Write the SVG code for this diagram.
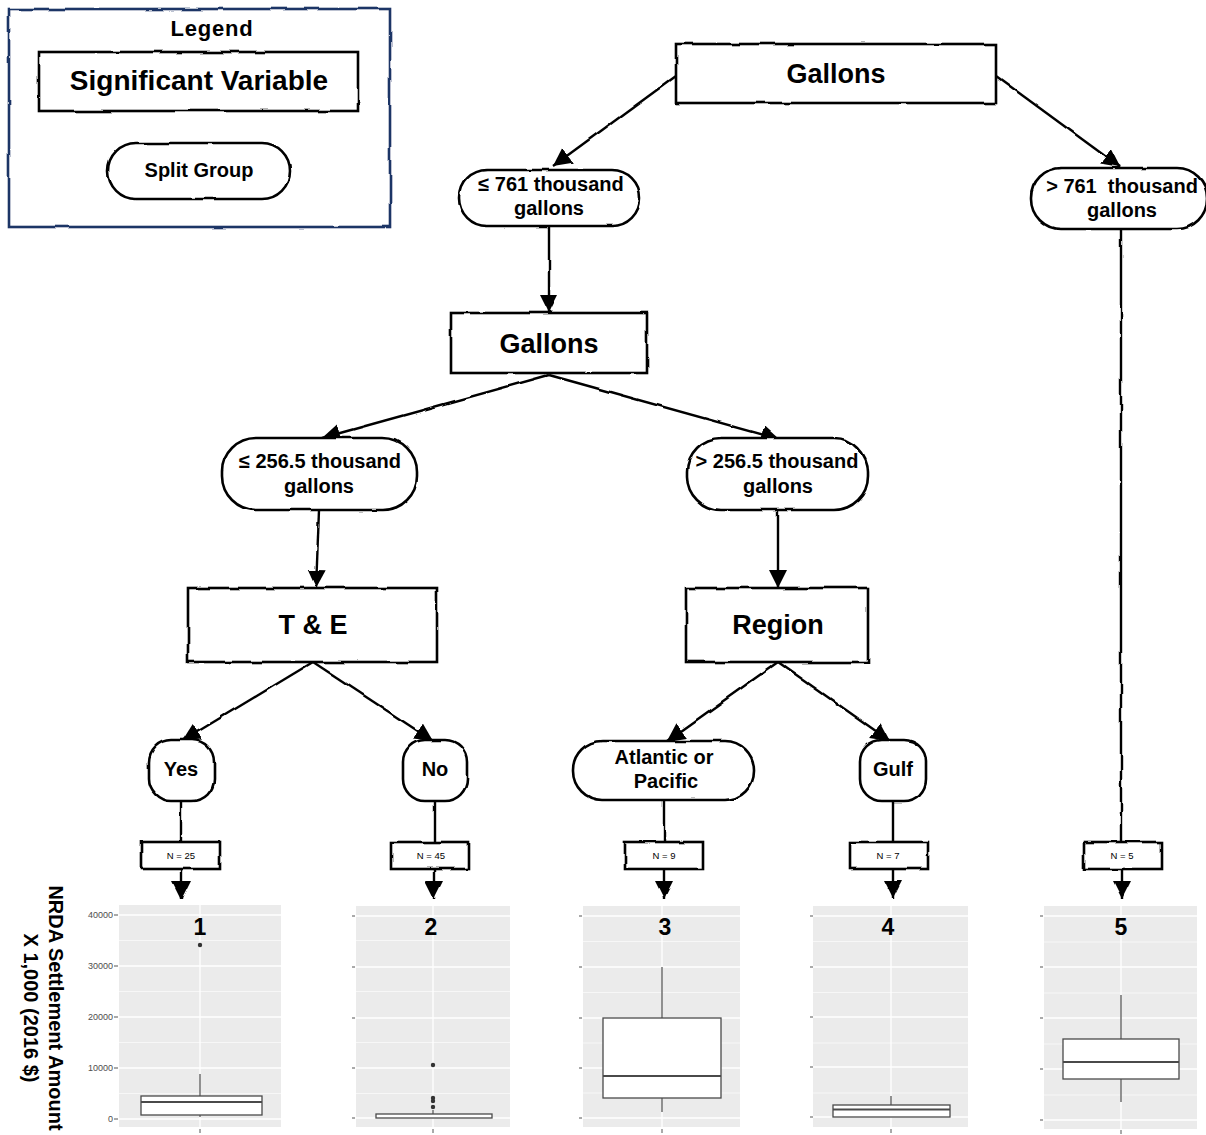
<svg xmlns="http://www.w3.org/2000/svg" width="1206" height="1135" viewBox="0 0 1206 1135">
<defs>
<filter id="rough" x="-5%" y="-5%" width="110%" height="110%">
<feTurbulence type="fractalNoise" baseFrequency="0.04" numOctaves="2" seed="3" result="n"/>
<feDisplacementMap in="SourceGraphic" in2="n" scale="3" xChannelSelector="R" yChannelSelector="G"/>
</filter>
<marker id="ah" markerUnits="userSpaceOnUse" markerWidth="20" markerHeight="20" refX="18" refY="9" orient="auto">
<path d="M0,0 L18,9 L0,18 z" fill="#000"/>
</marker>
</defs>
<style>
.sh{fill:#fff;stroke:#000;stroke-width:2.6;}
.t{font-family:"Liberation Sans",Arial,sans-serif;font-weight:bold;fill:#000;text-anchor:middle;}
.big{font-size:27px;}
.mid{font-size:20px;}
.nt{font-family:"Liberation Sans",Arial,sans-serif;font-size:9.5px;fill:#000;text-anchor:middle;}
.ln{stroke:#000;stroke-width:2.4;fill:none;}
.pb{fill:#ebebeb;}
.gM{stroke:#fff;stroke-width:1.3;}
.gm{stroke:#fff;stroke-width:0.6;}
.bx{fill:#fff;stroke:#4a4a4a;stroke-width:1.3;}
.md{stroke:#4a4a4a;stroke-width:2;}
.wh{stroke:#4a4a4a;stroke-width:1.2;}
.tk{stroke:#555;stroke-width:1;}
.tl{font-family:"Liberation Sans",Arial,sans-serif;font-size:9px;fill:#4d4d4d;text-anchor:end;}
.pn{font-family:"Liberation Sans",Arial,sans-serif;font-weight:bold;font-size:23px;fill:#000;text-anchor:middle;}
</style>

<g id="legend">
<rect x="9" y="9" width="381" height="218" fill="#fff" stroke="#1f3566" stroke-width="2.6" filter="url(#rough)"/>
<text class="t" x="212" y="36" font-size="22" letter-spacing="0.8">Legend</text>
<rect class="sh" x="39" y="52" width="319" height="59" filter="url(#rough)"/>
<text class="t" x="199" y="90" font-size="28">Significant Variable</text>
<rect class="sh" x="108" y="143" width="182" height="56" rx="28" filter="url(#rough)"/>
<text class="t mid" x="199" y="177">Split Group</text>
</g>

<g id="connectors">
<g filter="url(#rough)">
<line class="ln" x1="676" y1="76" x2="553" y2="166" marker-end="url(#ah)"/>
<line class="ln" x1="996" y1="76" x2="1120" y2="167" marker-end="url(#ah)"/>
<line class="ln" x1="549" y1="226" x2="549" y2="313" marker-end="url(#ah)"/>
<line class="ln" x1="549" y1="375" x2="322" y2="438" marker-end="url(#ah)"/>
<line class="ln" x1="549" y1="375" x2="779" y2="439" marker-end="url(#ah)"/>
<line class="ln" x1="319" y1="510" x2="316" y2="588" marker-end="url(#ah)"/>
<line class="ln" x1="778" y1="510" x2="778" y2="588" marker-end="url(#ah)"/>
<line class="ln" x1="313" y1="662" x2="182" y2="741" marker-end="url(#ah)"/>
<line class="ln" x1="313" y1="662" x2="433" y2="741" marker-end="url(#ah)"/>
<line class="ln" x1="778" y1="662" x2="667" y2="741" marker-end="url(#ah)"/>
<line class="ln" x1="778" y1="662" x2="890" y2="741" marker-end="url(#ah)"/>
<line class="ln" x1="181" y1="801" x2="181" y2="842"/>
<line class="ln" x1="435" y1="801" x2="435" y2="842"/>
<line class="ln" x1="664" y1="800" x2="664" y2="842"/>
<line class="ln" x1="893" y1="801" x2="893" y2="842"/>
<line class="ln" x1="1121" y1="229" x2="1121" y2="842"/>
<line class="ln" x1="181" y1="869" x2="181" y2="899" marker-end="url(#ah)"/>
<line class="ln" x1="434" y1="869" x2="434" y2="899" marker-end="url(#ah)"/>
<line class="ln" x1="664" y1="869" x2="664" y2="899" marker-end="url(#ah)"/>
<line class="ln" x1="893" y1="869" x2="893" y2="899" marker-end="url(#ah)"/>
<line class="ln" x1="1122" y1="869" x2="1122" y2="899" marker-end="url(#ah)"/>
</g>
</g>

<g id="gallons1">
<rect class="sh" x="676" y="44" width="320" height="59" filter="url(#rough)"/>
<text class="t big" x="836" y="83">Gallons</text>
</g>
<g id="le761">
<rect class="sh" x="459" y="170" width="181" height="56" rx="28" filter="url(#rough)"/>
<text class="t mid" x="551" y="191">≤  761 thousand</text>
<text class="t mid" x="549" y="215">gallons</text>
</g>
<g id="gt761">
<rect class="sh" x="1031" y="168" width="176" height="61" rx="30" filter="url(#rough)"/>
<text class="t mid" x="1122" y="193" xml:space="preserve">&gt; 761  thousand</text>
<text class="t mid" x="1122" y="217">gallons</text>
</g>
<g id="gallons2">
<rect class="sh" x="451" y="313" width="196" height="60" filter="url(#rough)"/>
<text class="t big" x="549" y="353">Gallons</text>
</g>
<g id="le256">
<rect class="sh" x="222" y="438" width="195" height="72" rx="34" filter="url(#rough)"/>
<text class="t mid" x="320" y="468">≤  256.5 thousand</text>
<text class="t mid" x="319" y="493">gallons</text>
</g>
<g id="gt256">
<rect class="sh" x="687" y="438" width="181" height="72" rx="34" filter="url(#rough)"/>
<text class="t mid" x="777" y="468">&gt; 256.5 thousand</text>
<text class="t mid" x="778" y="493">gallons</text>
</g>
<g id="te">
<rect class="sh" x="188" y="588" width="249" height="74" filter="url(#rough)"/>
<text class="t big" x="313" y="634">T &amp; E</text>
</g>
<g id="region">
<rect class="sh" x="686" y="588" width="182" height="74" filter="url(#rough)"/>
<text class="t big" x="778" y="634">Region</text>
</g>
<g id="yes">
<rect class="sh" x="149" y="740" width="65" height="61" rx="22" filter="url(#rough)"/>
<text class="t mid" x="181" y="776">Yes</text>
</g>
<g id="no">
<rect class="sh" x="403" y="740" width="64" height="61" rx="22" filter="url(#rough)"/>
<text class="t mid" x="435" y="776">No</text>
</g>
<g id="atlantic">
<rect class="sh" x="573" y="741" width="181" height="59" rx="29" filter="url(#rough)"/>
<text class="t mid" x="664" y="764">Atlantic or</text>
<text class="t mid" x="666" y="788">Pacific</text>
</g>
<g id="gulf">
<rect class="sh" x="860" y="740" width="66" height="61" rx="22" filter="url(#rough)"/>
<text class="t mid" x="893" y="776">Gulf</text>
</g>

<g id="n25"><rect class="sh" x="142" y="842" width="78" height="27" stroke-width="2.2" filter="url(#rough)"/><text class="nt" x="181" y="859">N = 25</text></g>
<g id="n45"><rect class="sh" x="391" y="842" width="78" height="27" stroke-width="2.2" filter="url(#rough)"/><text class="nt" x="431" y="859">N = 45</text></g>
<g id="n9"><rect class="sh" x="625" y="842" width="78" height="27" stroke-width="2.2" filter="url(#rough)"/><text class="nt" x="664" y="859">N = 9</text></g>
<g id="n7"><rect class="sh" x="850" y="842" width="78" height="27" stroke-width="2.2" filter="url(#rough)"/><text class="nt" x="888" y="859">N = 7</text></g>
<g id="n5"><rect class="sh" x="1084" y="842" width="77" height="27" stroke-width="2.2" filter="url(#rough)"/><text class="nt" x="1122" y="859">N = 5</text></g>

<g id="yaxis-label">
<text class="t" transform="translate(49,1008) rotate(90)" font-size="20">NRDA Settlement Amount</text>
<text class="t" transform="translate(24,1008) rotate(90)" font-size="20">X 1,000 (2016 $)</text>
</g>

<g id="plot1">
<rect class="pb" x="119" y="905" width="162" height="222"/>
<line class="gm" x1="119" x2="281" y1="940.5" y2="940.5"/><line class="gm" x1="119" x2="281" y1="991.5" y2="991.5"/><line class="gm" x1="119" x2="281" y1="1042.5" y2="1042.5"/><line class="gm" x1="119" x2="281" y1="1093.5" y2="1093.5"/>
<line class="gM" x1="119" x2="281" y1="915" y2="915"/><line class="gM" x1="119" x2="281" y1="966" y2="966"/><line class="gM" x1="119" x2="281" y1="1017" y2="1017"/><line class="gM" x1="119" x2="281" y1="1068" y2="1068"/><line class="gM" x1="119" x2="281" y1="1119" y2="1119"/>
<line class="gM" x1="200" x2="200" y1="905" y2="1127"/>
<line class="tk" x1="114" x2="118" y1="915" y2="915"/><line class="tk" x1="114" x2="118" y1="966" y2="966"/><line class="tk" x1="114" x2="118" y1="1017" y2="1017"/><line class="tk" x1="114" x2="118" y1="1068" y2="1068"/><line class="tk" x1="114" x2="118" y1="1119" y2="1119"/>
<text class="tl" x="113" y="918">40000</text><text class="tl" x="113" y="969">30000</text><text class="tl" x="113" y="1020">20000</text><text class="tl" x="113" y="1071">10000</text><text class="tl" x="113" y="1122">0</text>
<line class="tk" x1="200" x2="200" y1="1129" y2="1133"/>
<line class="wh" x1="200" x2="200" y1="1074" y2="1096"/><line class="wh" x1="200" x2="200" y1="1115" y2="1117"/>
<rect class="bx" x="141" y="1096" width="121" height="19"/>
<line class="md" x1="141" x2="262" y1="1102" y2="1102"/>
<circle cx="200" cy="945" r="2.2" fill="#333"/>
<text class="pn" x="200" y="935">1</text>
</g>

<g id="plot2">
<rect class="pb" x="356" y="906" width="154" height="221"/>
<line class="gm" x1="356" x2="510" y1="940.5" y2="940.5"/><line class="gm" x1="356" x2="510" y1="991.5" y2="991.5"/><line class="gm" x1="356" x2="510" y1="1042.5" y2="1042.5"/><line class="gm" x1="356" x2="510" y1="1093.5" y2="1093.5"/>
<line class="gM" x1="356" x2="510" y1="916" y2="916"/><line class="gM" x1="356" x2="510" y1="967" y2="967"/><line class="gM" x1="356" x2="510" y1="1018" y2="1018"/><line class="gM" x1="356" x2="510" y1="1068" y2="1068"/><line class="gM" x1="356" x2="510" y1="1118" y2="1118"/>
<line class="gM" x1="433" x2="433" y1="906" y2="1127"/>
<line class="tk" x1="352" x2="355" y1="916" y2="916"/><line class="tk" x1="352" x2="355" y1="967" y2="967"/><line class="tk" x1="352" x2="355" y1="1018" y2="1018"/><line class="tk" x1="352" x2="355" y1="1068" y2="1068"/><line class="tk" x1="352" x2="355" y1="1118" y2="1118"/>
<line class="tk" x1="433" x2="433" y1="1129" y2="1133"/>
<line class="wh" x1="433" x2="433" y1="1110" y2="1114"/>
<rect class="bx" x="376" y="1114" width="116" height="4" stroke-width="2" stroke="#3a3a3a"/>
<circle cx="433" cy="1065" r="2.2" fill="#333"/><circle cx="433" cy="1098" r="2.2" fill="#333"/><circle cx="433" cy="1101" r="2.2" fill="#333"/><circle cx="433" cy="1107" r="2.2" fill="#333"/>
<text class="pn" x="431" y="935">2</text>
</g>

<g id="plot3">
<rect class="pb" x="583" y="906" width="157" height="221"/>
<line class="gm" x1="583" x2="740" y1="941.5" y2="941.5"/><line class="gm" x1="583" x2="740" y1="992.5" y2="992.5"/><line class="gm" x1="583" x2="740" y1="1043" y2="1043"/><line class="gm" x1="583" x2="740" y1="1093" y2="1093"/>
<line class="gM" x1="583" x2="740" y1="916" y2="916"/><line class="gM" x1="583" x2="740" y1="967" y2="967"/><line class="gM" x1="583" x2="740" y1="1018" y2="1018"/><line class="gM" x1="583" x2="740" y1="1068" y2="1068"/><line class="gM" x1="583" x2="740" y1="1118" y2="1118"/>
<line class="gM" x1="662" x2="662" y1="906" y2="1127"/>
<line class="tk" x1="579" x2="582" y1="916" y2="916"/><line class="tk" x1="579" x2="582" y1="967" y2="967"/><line class="tk" x1="579" x2="582" y1="1018" y2="1018"/><line class="tk" x1="579" x2="582" y1="1068" y2="1068"/><line class="tk" x1="579" x2="582" y1="1118" y2="1118"/>
<line class="tk" x1="662" x2="662" y1="1129" y2="1133"/>
<line class="wh" x1="662" x2="662" y1="967" y2="1018"/><line class="wh" x1="662" x2="662" y1="1098" y2="1112"/>
<rect class="bx" x="603" y="1018" width="118" height="80"/>
<line class="md" x1="603" x2="721" y1="1076" y2="1076"/>
<text class="pn" x="665" y="935">3</text>
</g>

<g id="plot4">
<rect class="pb" x="813" y="906" width="155" height="221"/>
<line class="gm" x1="813" x2="968" y1="941.5" y2="941.5"/><line class="gm" x1="813" x2="968" y1="992.5" y2="992.5"/><line class="gm" x1="813" x2="968" y1="1043" y2="1043"/><line class="gm" x1="813" x2="968" y1="1093" y2="1093"/>
<line class="gM" x1="813" x2="968" y1="916" y2="916"/><line class="gM" x1="813" x2="968" y1="967" y2="967"/><line class="gM" x1="813" x2="968" y1="1017" y2="1017"/><line class="gM" x1="813" x2="968" y1="1067" y2="1067"/><line class="gM" x1="813" x2="968" y1="1117" y2="1117"/>
<line class="gM" x1="891" x2="891" y1="906" y2="1127"/>
<line class="tk" x1="810" x2="813" y1="916" y2="916"/><line class="tk" x1="810" x2="813" y1="967" y2="967"/><line class="tk" x1="810" x2="813" y1="1017" y2="1017"/><line class="tk" x1="810" x2="813" y1="1067" y2="1067"/><line class="tk" x1="810" x2="813" y1="1117" y2="1117"/>
<line class="tk" x1="891" x2="891" y1="1129" y2="1133"/>
<line class="wh" x1="891" x2="891" y1="1096" y2="1105"/>
<rect class="bx" x="833" y="1105" width="117" height="12"/>
<line class="md" x1="833" x2="950" y1="1109.5" y2="1109.5"/>
<text class="pn" x="888" y="935">4</text>
</g>

<g id="plot5">
<rect class="pb" x="1044" y="906" width="153" height="223"/>
<line class="gm" x1="1044" x2="1197" y1="942" y2="942"/><line class="gm" x1="1044" x2="1197" y1="993" y2="993"/><line class="gm" x1="1044" x2="1197" y1="1044" y2="1044"/><line class="gm" x1="1044" x2="1197" y1="1095" y2="1095"/>
<line class="gM" x1="1044" x2="1197" y1="916" y2="916"/><line class="gM" x1="1044" x2="1197" y1="967" y2="967"/><line class="gM" x1="1044" x2="1197" y1="1018" y2="1018"/><line class="gM" x1="1044" x2="1197" y1="1069" y2="1069"/><line class="gM" x1="1044" x2="1197" y1="1120" y2="1120"/>
<line class="gM" x1="1121" x2="1121" y1="906" y2="1129"/>
<line class="tk" x1="1040" x2="1043" y1="916" y2="916"/><line class="tk" x1="1040" x2="1043" y1="967" y2="967"/><line class="tk" x1="1040" x2="1043" y1="1018" y2="1018"/><line class="tk" x1="1040" x2="1043" y1="1069" y2="1069"/><line class="tk" x1="1040" x2="1043" y1="1120" y2="1120"/>
<line class="tk" x1="1121" x2="1121" y1="1130" y2="1134"/>
<line class="wh" x1="1121" x2="1121" y1="995" y2="1039"/><line class="wh" x1="1121" x2="1121" y1="1079" y2="1102"/>
<rect class="bx" x="1063" y="1039" width="116" height="40"/>
<line class="md" x1="1063" x2="1179" y1="1062" y2="1062"/>
<text class="pn" x="1121" y="935">5</text>
</g>
</svg>
